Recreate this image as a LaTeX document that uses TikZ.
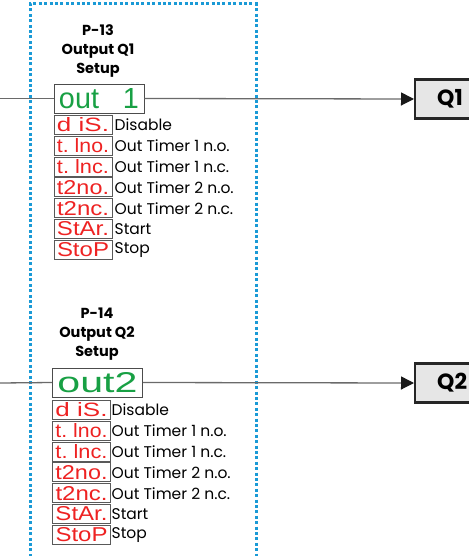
\documentclass[tikz,border=0pt]{standalone}
\usepackage{fontspec}
\setmainfont{Poppins}
\newfontfamily\segfont{Liberation Sans}
\usetikzlibrary{arrows.meta}
\definecolor{dotblue}{HTML}{1A9AD6}
\definecolor{seggreen}{HTML}{18A044}
\definecolor{segred}{HTML}{EE2222}
\definecolor{wire}{HTML}{6A6A6A}
\definecolor{qfill}{HTML}{E6E6E6}
\tikzset{
  frame/.style={draw=dotblue, line width=3pt, dash pattern=on 3pt off 2.4pt},
  outbox/.style={draw=black!70, line width=0.9pt, fill=white, minimum width=90pt, minimum height=29pt, inner sep=0pt},
  dispbox/.style={draw=black!65, line width=0.9pt, fill=white, minimum width=58pt, minimum height=19pt, inner sep=0pt},
  lbl/.style={anchor=west, inner sep=0pt, font=\fontsize{15.5}{16}\selectfont},
  ttl/.style={align=center, font=\bfseries\fontsize{14.5}{19}\selectfont, inner sep=0pt},
  wireline/.style={draw=wire, line width=1.3pt},
  qbox/.style={draw=black!85, line width=2.2pt, fill=qfill, minimum width=70pt, minimum height=39pt, inner sep=0pt, anchor=west},
  qtxt/.style={anchor=west, inner sep=0pt, font=\bfseries\fontsize{22}{22}\selectfont},
  tip/.style={-{Triangle[length=13pt,width=13pt,color=black!90]}}
}
\newcommand\grn[1]{\textcolor{seggreen}{\resizebox{80pt}{20pt}{\segfont #1}}}
\newcommand\rd[1]{\textcolor{segred}{\resizebox{52pt}{14pt}{\segfont #1}}}
\begin{document}
\begin{tikzpicture}[x=1pt,y=-1pt]
\useasboundingbox (0,0) rectangle (468,556);
% dotted frame
\draw[frame] (30,600) -- (30,4) -- (256,4) -- (256,600);

% ---------- Q1 ----------
\node[ttl] (t13) at (98,51) {P-13\\Output Q1\\Setup};
\node[outbox] (o1) at (99,98.5) {\grn{out\ \ \ 1}};
\coordinate (in1) at (0,98.5);
\node[qbox] (q1) at (414,99) {};
\node[qtxt] (q1t) at (437,99) {Q1};
\draw[wireline] (in1) -- (o1.west);
\draw[wireline, tip] (o1.east) -- (q1.west);
\foreach \i/\t/\l in {0/{d\ iS.}/Disable,1/{t.\ lno.}/Out Timer 1 n.o.,2/{t.\ lnc.}/Out Timer 1 n.c.,3/{t2no.}/Out Timer 2 n.o.,4/{t2nc.}/Out Timer 2 n.c.,5/{StAr.}/Start,6/{StoP}/Stop}{
  \node[dispbox] (a\i) at (83,{125+20.8*\i}) {\rd{\t}};
  \node[lbl] (al\i) at (114.5,{125+20.8*\i}) {\l};
}

% ---------- Q2 ----------
\node[ttl] (t14) at (97,334) {P-14\\Output Q2\\Setup};
\node[outbox] (o2) at (97.5,382.5) {\grn{out2}};
\coordinate (in2) at (0,383);
\node[qbox] (q2) at (414,383) {};
\node[qtxt] (q2t) at (437,383) {Q2};
\draw[wireline] (in2) -- (o2.west);
\draw[wireline, tip] (o2.east) -- (q2.west);
\foreach \i/\t/\l in {0/{d\ iS.}/Disable,1/{t.\ lno.}/Out Timer 1 n.o.,2/{t.\ lnc.}/Out Timer 1 n.c.,3/{t2no.}/Out Timer 2 n.o.,4/{t2nc.}/Out Timer 2 n.c.,5/{StAr.}/Start,6/{StoP}/Stop}{
  \node[dispbox] (b\i) at (81.5,{410+20.8*\i}) {\rd{\t}};
  \node[lbl] (bl\i) at (111.5,{410+20.8*\i}) {\l};
}
\end{tikzpicture}
\end{document}
